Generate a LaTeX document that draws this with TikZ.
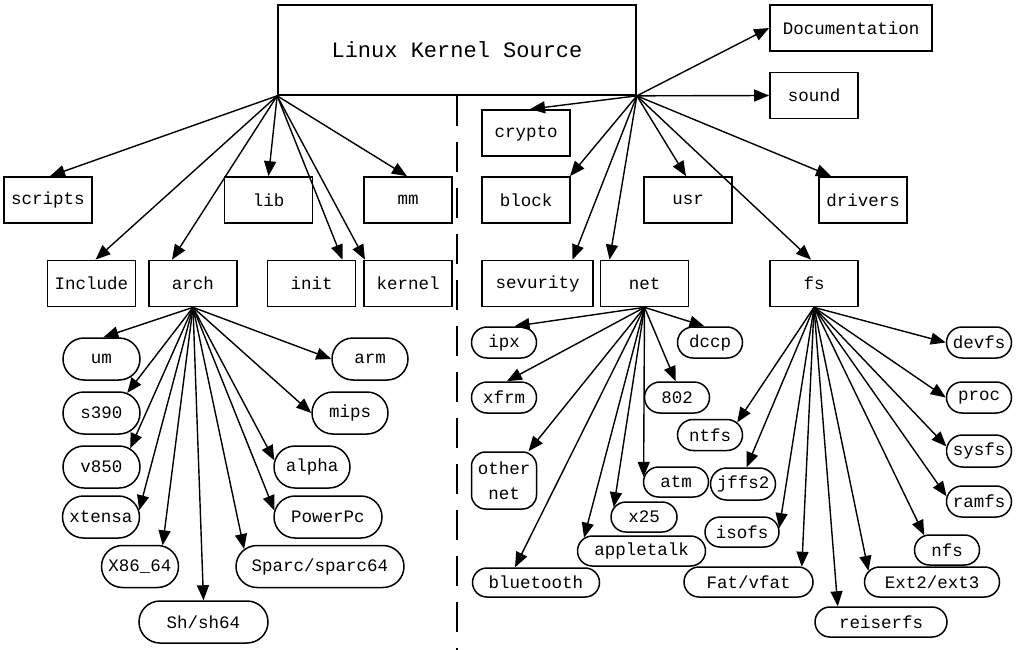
\documentclass[tikz,border=0pt]{standalone}
\usepackage{fontspec}
\setmonofont{Liberation Mono}
\usetikzlibrary{arrows.meta,shapes.misc}

\begin{document}
\begin{tikzpicture}[
  x=1pt,y=-1pt,
  dirbox/.style={draw,line width=1.7pt,minimum width=88pt,minimum height=46pt,
                 inner sep=0pt,font=\ttfamily\fontsize{17.5}{19}\selectfont},
  leaf/.style={draw,rounded rectangle,line width=1.5pt,minimum height=42pt,
               inner sep=0pt,font=\ttfamily\fontsize{17.5}{19}\selectfont},
  small/.style={leaf,minimum height=31pt},
  link/.style={-{Triangle[length=15pt,width=12pt]},line width=1.4pt},
]
  \useasboundingbox (0,0) rectangle (1022,650);

  % top level
  \node[dirbox,minimum width=358pt,minimum height=90pt,
        font=\ttfamily\fontsize{22}{24}\selectfont] (src) at (457,50) {Linux Kernel Source};
  \coordinate (split) at (457,650);
  \draw[line width=2pt,dash pattern=on 30pt off 16pt] (src.south) -- (split);

  % left half
  \node[dirbox] (scripts) at (48,200) {scripts};
  \node[dirbox] (lib) at (268.5,200) {lib};
  \node[dirbox] (mm) at (408,200) {mm};
  \node[dirbox] (inc) at (91.5,283.5) {Include};
  \node[dirbox] (arch) at (193,283.5) {arch};
  \node[dirbox] (init) at (311.5,283.5) {init};
  \node[dirbox] (kernel) at (408,283.5) {kernel};

  \foreach \t/\dx in {scripts/2,lib/0,mm/-1,inc/4,arch/-21,init/31,kernel/-43}
    \draw[link] (src.south west) -- ([xshift=\dx]\t.north);

  % right half
  \node[dirbox,minimum width=162pt] (doc) at (851,28) {Documentation};
  \node[dirbox] (sound) at (814,95.5) {sound};
  \node[dirbox] (crypto) at (526,133) {crypto};
  \node[dirbox] (block) at (526,200) {block};
  \node[dirbox] (usr) at (688,200) {usr};
  \node[dirbox] (drivers) at (863,200) {drivers};
  \node[dirbox,minimum width=111pt] (sevurity) at (537.5,283.5) {sevurity};
  \node[dirbox] (net) at (644.5,283.5) {net};
  \node[dirbox] (fs) at (814,283.5) {fs};

  \draw[link] (src.south east) -- (doc.west);
  \draw[link] (src.south east) -- (sound.west);
  \foreach \t/\dx in {crypto/4,block/44,usr/-2,drivers/-32,sevurity/35,net/-35,fs/-3}
    \draw[link] (src.south east) -- ([xshift=\dx]\t.north);

  % arch
  \node[leaf,minimum width=77pt] (um) at (101.5,359) {um};
  \node[leaf,minimum width=77pt] (s390) at (101.5,413) {s390};
  \node[leaf,minimum width=77pt] (v850) at (101.5,467) {v850};
  \node[leaf,minimum width=77pt] (xtensa) at (101,517) {xtensa};
  \node[leaf,minimum width=77pt] (x86) at (140,566.5) {X86\_64};
  \node[leaf,minimum width=129pt] (sh) at (203.5,622) {Sh/sh64};
  \node[leaf,minimum width=168pt] (sparc) at (320,566.5) {Sparc/sparc64};
  \node[leaf,minimum width=108pt] (ppc) at (328,517) {PowerPc};
  \node[leaf,minimum width=76pt] (alpha) at (312,467) {alpha};
  \node[leaf,minimum width=76pt] (mips) at (350,413) {mips};
  \node[leaf,minimum width=76pt] (arm) at (370,359) {arm};

  \foreach \t/\a in {um/85,s390/38,v850/33,xtensa/10,x86/43,sh/90,
                     sparc/167,ppc/173,alpha/170,mips/180,arm/180}
    \draw[link] (arch.south) -- (\t.\a);

  % net
  \node[small,minimum width=65pt] (ipx) at (504,342.5) {ipx};
  \node[small,minimum width=65pt] (xfrm) at (504,397.5) {xfrm};
  \node[draw,rounded corners=14pt,line width=1.5pt,minimum width=65pt,minimum height=57pt,
        inner sep=0pt,align=center,font=\ttfamily\fontsize{17.5}{25}\selectfont]
        (othernet) at (504,480.5) {other\\net};
  \node[small,minimum width=127pt,minimum height=29pt] (bluetooth) at (536,582.5) {bluetooth};
  \node[small,minimum width=128pt,minimum height=30pt] (appletalk) at (641.5,551) {appletalk};
  \node[small,minimum width=66pt,minimum height=30pt] (x25) at (644,517) {x25};
  \node[small,minimum width=65pt,minimum height=30pt] (atm) at (676,482) {atm};
  \node[small,minimum width=65pt] (n802) at (677,397.5) {802};
  \node[small,minimum width=65pt] (dccp) at (710,342.5) {dccp};

  \foreach \t/\a in {ipx/57,xfrm/80,othernet/50,bluetooth/144,appletalk/167,
                     x25/162,atm/171,n802/95,dccp/109}
    \draw[link] (net.south) -- (\t.\a);

  % fs
  \node[small,minimum width=65pt] (devfs) at (979,342.5) {devfs};
  \node[small,minimum width=65pt] (proc) at (979,397.5) {proc};
  \node[small,minimum width=65pt,minimum height=32pt] (sysfs) at (979,451) {sysfs};
  \node[small,minimum width=65pt] (ramfs) at (979,501.5) {ramfs};
  \node[small,minimum width=65pt,minimum height=30pt] (nfs) at (947,550) {nfs};
  \node[small,minimum width=135pt,minimum height=30pt] (ext) at (932,582) {Ext2/ext3};
  \node[small,minimum width=132pt,minimum height=30pt] (reiserfs) at (881,622) {reiserfs};
  \node[small,minimum width=129pt,minimum height=30pt] (fat) at (748.5,582) {Fat/vfat};
  \node[small,minimum width=74pt,minimum height=30pt] (isofs) at (742,532) {isofs};
  \node[small,minimum width=65pt,minimum height=32pt] (jffs) at (743,484) {jffs2};
  \node[small,minimum width=65pt] (ntfs) at (710,435) {ntfs};

  \foreach \t/\a in {devfs/180,proc/180,sysfs/172,ramfs/171,nfs/147,ext/170,
                     reiserfs/160,fat/16,isofs/6,jffs/78,ntfs/25}
    \draw[link] (fs.south) -- (\t.\a);
\end{tikzpicture}
\end{document}
